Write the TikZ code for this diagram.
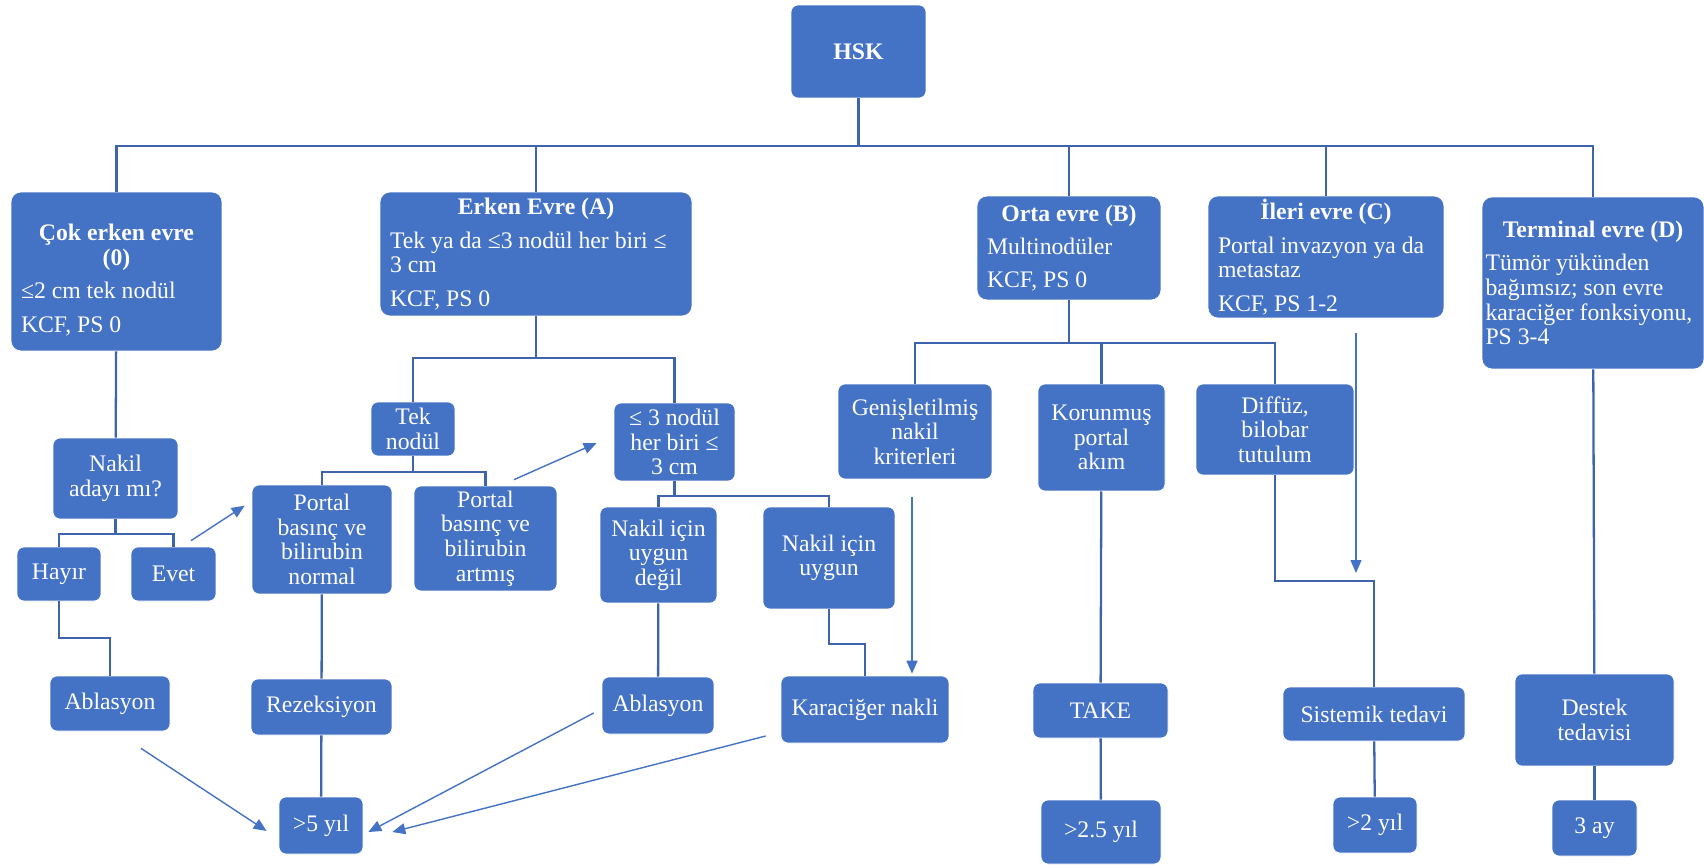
\documentclass[tikz,border=0pt]{standalone}
\usepackage{fontspec}
\setmainfont{Liberation Serif}
\usetikzlibrary{arrows.meta}
\definecolor{boxblue}{HTML}{4472C4}
\definecolor{lineblue}{HTML}{3D64AD}
\newcommand{\stagehead}[1]{\makebox[\linewidth]{\bfseries #1}}

\begin{document}
\begin{tikzpicture}[x=0.02cm,y=-0.02cm,
		box/.style={draw=white, line width=0.4pt, fill=boxblue, rounded corners=0.14cm, text=white,
			font=\fontsize{13.5}{14}\selectfont, align=center, inner sep=0pt},
		stage/.style={box, align=flush left, inner xsep=0.2cm, rounded corners=0.2cm},
		tree/.style={draw=lineblue, line width=1.3pt},
		arr/.style={draw=boxblue, line width=0.8pt, -{Triangle[length=0.26cm,width=0.22cm]}}]

		\useasboundingbox (0,0) rectangle (1704,865);

		% top and stages
		\node[box, minimum width=2.7cm, minimum height=1.86cm, font=\fontsize{13.5}{14}\selectfont\bfseries] (hsk) at (858.5, 51.5) {HSK};

		\node[stage, text width=3.82cm, text height=19pt, minimum height=3.18cm] (cok) at ( 116.5, 271.5) {\stagehead{Çok erken evre}\\ \stagehead{(0)}\\[5pt] ≤2 cm tek nodül\\[5pt] KCF, PS 0};
		\node[stage, text width=5.84cm, minimum height=2.48cm] (erken) at ( 536.0, 254.0) {\stagehead{Erken Evre (A)}\\[5pt] Tek ya da ≤3 nodül her biri ≤\\ 3 cm\\[5pt] KCF, PS 0};
		\node[stage, text width=3.28cm, minimum height=2.08cm] (orta)  at (1069.0, 248.0) {\stagehead{Orta evre (B)}\\[5pt] Multinodüler\\[5pt] KCF, PS 0};
		\node[stage, text width=4.32cm, minimum height=2.44cm] (ileri) at (1326.0, 257.0) {\stagehead{İleri evre (C)}\\[5pt] Portal invazyon ya da\\ metastaz\\[5pt] KCF, PS 1-2};
		\node[stage, text width=4.30cm, inner xsep=0.07cm, minimum height=3.44cm] (term) at (1593.0, 283.0) {\stagehead{Terminal evre (D)}\\[5pt] Tümör yükünden\\ bağımsız; son evre\\ karaciğer fonksiyonu,\\ PS 3-4};

		% second row
		\node[box, minimum width=2.50cm, minimum height=1.62cm] (nakil) at ( 115.5, 478.5) {Nakil\\ adayı mı?};
		\node[box, minimum width=1.68cm, minimum height=1.08cm] (tek)   at ( 413.0, 429.0) {Tek\\ nodül};
		\node[box, minimum width=2.42cm, minimum height=1.56cm] (uc)    at ( 674.5, 442.0) {≤ 3 nodül\\ her biri ≤\\ 3 cm};
		\node[box, minimum width=3.08cm, minimum height=1.90cm] (genis) at ( 915.0, 431.5) {Genişletilmiş\\ nakil\\ kriterleri};
		\node[box, minimum width=2.54cm, minimum height=2.14cm] (korun) at (1101.5, 437.5) {Korunmuş\\ portal\\ akım};
		\node[box, minimum width=3.16cm, minimum height=1.82cm] (diff)  at (1275.0, 429.5) {Diffüz,\\ bilobar\\ tutulum};

		% third row
		\node[box, minimum width=1.68cm, minimum height=1.08cm] (hayir) at (  59.0, 574.0) {Hayır};
		\node[box, minimum width=1.70cm, minimum height=1.08cm] (evet)  at ( 173.5, 574.0) {Evet};
		\node[box, minimum width=2.80cm, minimum height=2.18cm] (pnorm) at ( 322.0, 539.5) {Portal\\ basınç ve\\ bilirubin\\ normal};
		\node[box, minimum width=2.86cm, minimum height=2.10cm] (partm) at ( 485.5, 538.5) {Portal\\ basınç ve\\ bilirubin\\ artmış};
		\node[box, minimum width=2.34cm, minimum height=1.92cm] (degil) at ( 658.5, 555.0) {Nakil için\\ uygun\\ değil};
		\node[box, minimum width=2.64cm, minimum height=2.04cm] (uygun) at ( 829.0, 558.0) {Nakil için\\ uygun};

		% treatments
		\node[box, minimum width=2.40cm, minimum height=1.10cm] (abl1)   at ( 110.0, 703.5) {Ablasyon};
		\node[box, minimum width=2.82cm, minimum height=1.12cm] (rez)    at ( 321.5, 707.0) {Rezeksiyon};
		\node[box, minimum width=2.24cm, minimum height=1.14cm] (abl2)   at ( 658.0, 705.5) {Ablasyon};
		\node[box, minimum width=3.36cm, minimum height=1.34cm] (nakli)  at ( 865.0, 709.5) {Karaciğer nakli};
		\node[box, minimum width=2.70cm, minimum height=1.10cm] (take)   at (1100.5, 710.5) {TAKE};
		\node[box, minimum width=3.64cm, minimum height=1.08cm] (sist)   at (1374.0, 714.0) {Sistemik tedavi};
		\node[box, minimum width=3.18cm, minimum height=1.84cm] (destek) at (1594.5, 720.0) {Destek\\ tedavisi};

		% survival
		\node[box, minimum width=1.68cm, minimum height=1.14cm] (y5)  at ( 321.0, 825.5) {>5 yıl};
		\node[box, minimum width=2.40cm, minimum height=1.28cm] (y25) at (1101.0, 832.0) {>2.5 yıl};
		\node[box, minimum width=1.68cm, minimum height=1.12cm] (y2)  at (1375.0, 825.0) {>2 yıl};
		\node[box, minimum width=1.70cm, minimum height=1.12cm] (ay3) at (1594.5, 828.0) {3 ay};

		% bus points
		\coordinate (b0)  at ( 858.5, 146);
		\coordinate (nb)  at ( 115.5, 534);
		\coordinate (hb)  at (  59.0, 638);
		\coordinate (eb)  at ( 536.0, 358);
		\coordinate (tb)  at ( 413.0, 472);
		\coordinate (ub)  at ( 674.5, 496);
		\coordinate (ngb) at ( 829.0, 644);
		\coordinate (ob)  at (1069.0, 343);
		\coordinate (db)  at (1275.0, 581);
		\coordinate (ia)  at (1356.0, 573);

		\draw[tree] (hsk) -- (b0);
		\draw[tree] (b0) -| (cok);  \draw[tree] (b0) -| (erken); \draw[tree] (b0) -| (orta);
		\draw[tree] (b0) -| (ileri); \draw[tree] (b0) -| (term);

		\draw[tree] (cok) -- (nakil);
		\draw[tree] (nakil) -- (nb); \draw[tree] (nb) -| (hayir); \draw[tree] (nb) -| (evet);
		\draw[tree] (hayir) -- (hb) -| (abl1);

		\draw[tree] (erken) -- (eb); \draw[tree] (eb) -| (tek); \draw[tree] (eb) -| (uc);
		\draw[tree] (tek) -- (tb); \draw[tree] (tb) -| (pnorm); \draw[tree] (tb) -| (partm);
		\draw[tree] (uc) -- (ub); \draw[tree] (ub) -| (degil); \draw[tree] (ub) -| (uygun);
		\draw[tree] (pnorm) -- (rez);
		\draw[tree] (degil) -- (abl2);
		\draw[tree] (uygun) -- (ngb) -| (nakli);
		\draw[tree] (rez) -- (y5);

		\draw[tree] (orta) -- (ob);
		\draw[tree] (ob) -| (genis); \draw[tree] (ob) -| (korun); \draw[tree] (ob) -| (diff);
		\draw[tree] (korun) -- (take); \draw[tree] (take) -- (y25);
		\draw[tree] (diff) -- (db) -| (sist);
		\draw[tree] (sist) -- (y2);
		\draw[tree] (term) -- (destek); \draw[tree] (destek) -- (ay3);

		\draw[arr] ([shift={(17.5,-6)}]evet.north) -- ([shift={(-7,21)}]pnorm.north west);
		\draw[arr] ([shift={(28.5,-6)}]partm.north) -- ([shift={(-17,1)}]uc.west);
		\draw[arr] ([shift={(-3,18)}]genis.south) -- ([shift={(47,-2)}]nakli.north);
		\draw[arr] ([shift={(30,15)}]ileri.south) -- (ia);
		\draw[arr] ([shift={(31,17)}]abl1.south) -- ([shift={(-12,5.5)}]y5.west);
		\draw[arr] ([shift={(-8,7.5)}]abl2.west) -- ([shift={(5,6.5)}]y5.east);
		\draw[arr] ([shift={(-15,26.5)}]nakli.west) -- ([shift={(29,6.5)}]y5.east);

	\end{tikzpicture}
\end{document}
